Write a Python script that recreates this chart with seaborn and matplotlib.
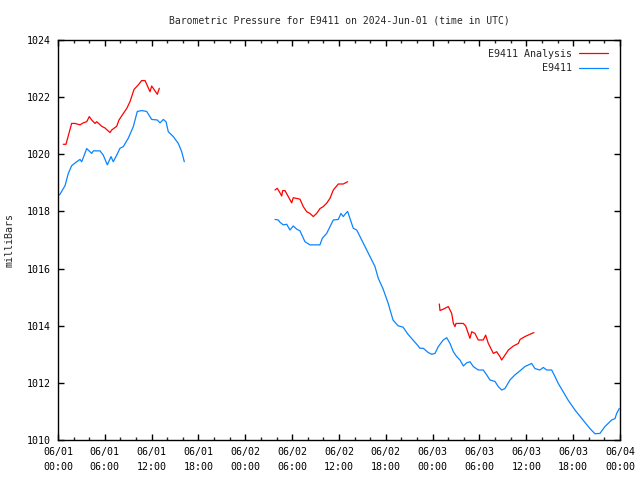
import numpy as np
import pandas as pd
import matplotlib
matplotlib.use("Agg")
import matplotlib.pyplot as plt
import matplotlib.dates as mdates
import seaborn as sns

# ---- data: hours after 2024-06-01 00:00 UTC, pressure in mbar ----
obs_h1 = [0.0, 0.25, 0.9, 1.32, 1.75, 2.4, 2.82, 3.04, 3.68, 4.32, 4.52, 5.38, 5.8, 6.32,
          6.79, 7.08, 7.52, 7.94, 8.37, 9.0, 9.65, 10.16, 10.72, 11.36, 12.0, 12.72, 13.07,
          13.49, 13.84, 14.13, 14.77, 15.41, 15.85, 16.18]
obs_p1 = [1018.55, 1018.6, 1018.9, 1019.33, 1019.6, 1019.74, 1019.82, 1019.74, 1020.2,
          1020.03, 1020.12, 1020.12, 1019.97, 1019.63, 1019.92, 1019.74, 1019.97, 1020.21,
          1020.27, 1020.56, 1020.97, 1021.5, 1021.53, 1021.5, 1021.22, 1021.2, 1021.1,
          1021.22, 1021.14, 1020.79, 1020.62, 1020.38, 1020.09, 1019.74]

obs_h2 = [27.8, 28.22, 28.44, 28.86, 29.3, 29.72, 30.14, 30.58, 31.0, 31.64, 32.28, 33.56,
          33.86, 34.42, 34.85, 35.27, 35.91, 36.25, 36.55, 36.86, 37.11, 37.32, 37.83, 38.27,
          38.91, 39.55, 40.19, 40.61, 41.03, 41.63, 42.28, 42.92, 43.56, 44.2, 44.84, 45.48,
          46.12, 46.37, 46.8, 47.44, 47.87, 48.3, 48.72, 49.36, 49.8, 50.22, 50.65, 51.07,
          51.5, 51.93, 52.36, 52.78, 53.2, 53.84, 54.48, 54.92, 55.34, 55.98, 56.41, 56.84,
          57.26, 57.9, 58.54, 59.18, 59.82, 60.68, 61.1, 61.75, 62.17, 62.6, 63.25, 63.67,
          64.09, 64.7, 65.34, 66.23, 67.26, 68.15, 68.79, 69.43, 70.07, 70.93, 71.36, 71.57,
          71.9]
obs_p2 = [1017.72, 1017.7, 1017.62, 1017.53, 1017.55, 1017.35, 1017.49, 1017.38, 1017.32,
          1016.94, 1016.83, 1016.83, 1017.06, 1017.23, 1017.47, 1017.7, 1017.72, 1017.93,
          1017.82, 1017.93, 1018.0, 1017.82, 1017.41, 1017.35, 1017.0, 1016.65, 1016.3,
          1016.07, 1015.66, 1015.3, 1014.8, 1014.2, 1014.0, 1013.95, 1013.7, 1013.5, 1013.3,
          1013.21, 1013.21, 1013.06, 1013.0, 1013.03, 1013.27, 1013.5, 1013.58, 1013.38,
          1013.09, 1012.92, 1012.8, 1012.59, 1012.7, 1012.74, 1012.57, 1012.45, 1012.45,
          1012.28, 1012.1, 1012.05, 1011.87, 1011.75, 1011.8, 1012.1, 1012.28, 1012.42,
          1012.57, 1012.68, 1012.5, 1012.45, 1012.54, 1012.45, 1012.45, 1012.22, 1011.98,
          1011.7, 1011.4, 1011.05, 1010.7, 1010.4, 1010.22, 1010.23, 1010.47, 1010.7,
          1010.75, 1010.93, 1011.1]

ana_h1 = [0.68, 1.02, 1.75, 2.18, 2.82, 3.24, 3.68, 4.01, 4.32, 4.74, 4.96, 5.6, 6.02, 6.66,
          6.88, 7.52, 7.81, 8.37, 8.8, 9.22, 9.74, 10.29, 10.72, 11.15, 11.79, 12.0, 12.43,
          12.72, 12.98]
ana_p1 = [1020.35, 1020.35, 1021.08, 1021.08, 1021.03, 1021.1, 1021.14, 1021.32, 1021.2,
          1021.08, 1021.14, 1020.98, 1020.92, 1020.76, 1020.85, 1020.98, 1021.2, 1021.43,
          1021.6, 1021.84, 1022.27, 1022.43, 1022.58, 1022.58, 1022.19, 1022.39, 1022.22,
          1022.1, 1022.31]

ana_h2 = [27.8, 28.09, 28.44, 28.66, 28.79, 29.08, 29.5, 29.94, 30.14, 31.0, 31.42, 31.86,
          32.28, 32.71, 33.14, 33.56, 33.99, 34.42, 34.85, 35.27, 35.91, 36.55, 37.11]
ana_p2 = [1018.75, 1018.81, 1018.65, 1018.54, 1018.73, 1018.73, 1018.52, 1018.3, 1018.48,
          1018.43, 1018.17, 1017.99, 1017.93, 1017.82, 1017.93, 1018.1, 1018.17, 1018.29,
          1018.46, 1018.75, 1018.96, 1018.96, 1019.04]

ana_h3 = [48.85, 48.94, 49.36, 50.0, 50.44, 50.65, 50.86, 50.99, 51.92, 52.23, 52.56, 52.78,
          53.0, 53.42, 53.84, 54.48, 54.79, 55.13, 55.56, 55.77, 56.2, 56.62, 56.84, 57.26,
          57.7, 58.34, 58.98, 59.2, 59.82, 60.46, 60.97]
ana_p3 = [1014.76, 1014.53, 1014.58, 1014.67, 1014.43, 1014.08, 1013.97, 1014.08, 1014.08,
          1013.99, 1013.73, 1013.56, 1013.79, 1013.73, 1013.5, 1013.5, 1013.67, 1013.38,
          1013.15, 1013.03, 1013.09, 1012.92, 1012.8, 1012.97, 1013.15, 1013.29, 1013.38,
          1013.52, 1013.62, 1013.7, 1013.76]

title = "Barometric Pressure for E9411 on 2024-Jun-01 (time in UTC)"
ylabel = "milliBars"
series_names = ["E9411 Analysis", "E9411"]
colors = {"E9411 Analysis": "#ff0000", "E9411": "#0a84ff"}

start = pd.Timestamp("2024-06-01 00:00")


def seg(hours, press, name, segid):
    return pd.DataFrame({
        "time": start + pd.to_timedelta(hours, unit="h"),
        "pressure": press,
        "series": name,
        "seg": f"{name}-{segid}",
    })


df = pd.concat([
    seg(ana_h1, ana_p1, "E9411 Analysis", 1),
    seg(ana_h2, ana_p2, "E9411 Analysis", 2),
    seg(ana_h3, ana_p3, "E9411 Analysis", 3),
    seg(obs_h1, obs_p1, "E9411", 1),
    seg(obs_h2, obs_p2, "E9411", 2),
], ignore_index=True)

sns.set_theme(style="white")
mono = ["DejaVu Sans Mono"]
plt.rcParams["font.family"] = mono

fig = plt.figure(figsize=(6.4, 4.8), dpi=100)
ax = fig.add_axes([58 / 640, 40 / 480, 562 / 640, 400 / 480])

sns.lineplot(data=df, x="time", y="pressure", hue="series", units="seg",
             estimator=None, palette=colors, hue_order=series_names,
             linewidth=0.9, ax=ax, sort=True)

ax.set_xlim(start, start + pd.Timedelta(hours=72))
ax.set_ylim(1010, 1024)
ax.set_yticks(np.arange(1010, 1025, 2))
ax.xaxis.set_major_locator(mdates.HourLocator(byhour=[0, 6, 12, 18]))
ax.xaxis.set_minor_locator(mdates.HourLocator(interval=2))
ax.xaxis.set_major_formatter(mdates.DateFormatter("%m/%d\n%H:%M"))

ax.tick_params(axis="both", which="major", direction="in", length=4, width=1,
               top=True, right=True, bottom=True, left=True, labelsize=7.2,
               colors="black", pad=5)
ax.tick_params(axis="x", which="minor", direction="in", length=2.2, width=1,
               top=True, bottom=True)
for lab in ax.get_xticklabels():
    lab.set_linespacing(1.6)
for s in ax.spines.values():
    s.set_visible(True)
    s.set_color("black")
    s.set_linewidth(1)

ax.set_xlabel("")
ax.set_ylabel(ylabel, fontsize=7.2, labelpad=9)
ax.set_title(title, fontsize=7.0, pad=12)

leg = ax.legend(loc="upper right", bbox_to_anchor=(0.995, 1.0), frameon=False,
                markerfirst=False, fontsize=7.2, handlelength=2.9,
                handletextpad=0.7, labelspacing=0.45)

fig.savefig("out.png", dpi=100)
